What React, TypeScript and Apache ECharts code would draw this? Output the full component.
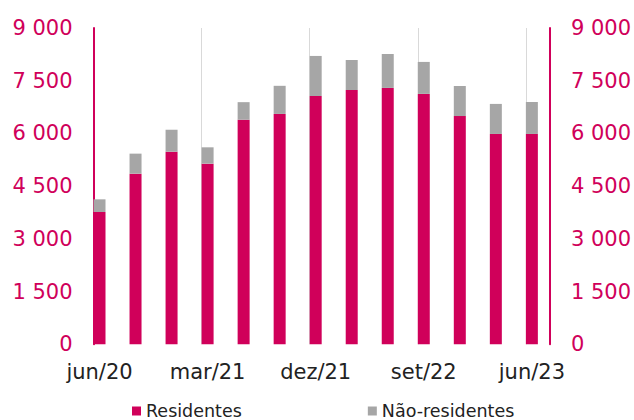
import React, { useEffect, useRef } from "react";
import * as echarts from "echarts";

// Monthly category axis (bars sit on quarter months)
const months: string[] = [
  "jun/20", "jul/20", "ago/20", "set/20", "out/20", "nov/20", "dez/20",
  "jan/21", "fev/21", "mar/21", "abr/21", "mai/21", "jun/21", "jul/21", "ago/21", "set/21", "out/21", "nov/21", "dez/21",
  "jan/22", "fev/22", "mar/22", "abr/22", "mai/22", "jun/22", "jul/22", "ago/22", "set/22", "out/22", "nov/22", "dez/22",
  "jan/23", "fev/23", "mar/23", "abr/23", "mai/23", "jun/23", "jul/23",
];

const quarters: string[] = [
  "jun/20", "set/20", "dez/20", "mar/21", "jun/21", "set/21", "dez/21",
  "mar/22", "jun/22", "set/22", "dez/22", "mar/23", "jun/23",
];

const residentes: number[] = [3765, 4855, 5480, 5140, 6390, 6555, 7065, 7235, 7295, 7125, 6495, 5985, 5985];
const naoResidentes: number[] = [360, 570, 625, 465, 500, 800, 1140, 855, 965, 910, 855, 855, 910];

const yTicks: number[] = [0, 1500, 3000, 4500, 6000, 7500, 9000];

const PINK = "#D0005A";
const GRAY = "#A6A6A6";
const FONT = "DejaVu Sans";

function toMonthly(values: number[]): (number | null)[] {
  const out: (number | null)[] = months.map(() => null);
  quarters.forEach((q, i) => {
    const idx = months.indexOf(q);
    if (idx >= 0) out[idx] = values[i];
  });
  return out;
}

function fmt(v: number): string {
  const s = String(Math.round(v));
  return s.replace(/\B(?=(\d{3})+(?!\d))/g, " ");
}

export default function App() {
  const ref = useRef<HTMLDivElement>(null);
  useEffect(() => {
    if (!ref.current) return;
    const chart = echarts.init(ref.current, null, { renderer: "svg" });
    const yMin = yTicks[0];
    const yMax = yTicks[yTicks.length - 1];
    const yInterval = yTicks[1] - yTicks[0];
    const yAxisCommon = {
      type: "value" as const,
      min: yMin,
      max: yMax,
      interval: yInterval,
      axisLine: { show: true, lineStyle: { color: PINK, width: 2 } },
      axisTick: { show: false },
      splitLine: { show: false },
      axisLabel: {
        color: PINK,
        fontFamily: FONT,
        fontSize: 21,
        margin: 21,
        formatter: (v: number) => fmt(v),
      },
    };
    chart.setOption({
      animation: false,
      grid: { left: 93.5, right: 81, top: 28, bottom: 75.7, containLabel: false },
      legend: {
        data: ["Residentes", "Não-residentes"],
        left: 132,
        top: 402,
        padding: 0,
        itemWidth: 9,
        itemHeight: 9,
        itemGap: 126,
        icon: "rect",
        textStyle: { fontFamily: FONT, fontSize: 17.5, color: "#222", padding: [0, 0, 0, 0] },
      },
      xAxis: {
        type: "category",
        data: months,
        boundaryGap: true,
        axisLine: { show: false },
        axisTick: { show: false, interval: 8 },
        splitLine: { show: true, interval: 8, lineStyle: { color: "#D9D9D9", width: 1 } },
        axisLabel: {
          interval: 8,
          color: "#222",
          fontFamily: FONT,
          fontSize: 21,
          margin: 17,
        },
      },
      yAxis: [
        { ...yAxisCommon, position: "left" },
        { ...yAxisCommon, position: "right" },
      ],
      series: [
        {
          name: "Residentes",
          type: "bar",
          stack: "total",
          barWidth: 12,
          itemStyle: { color: PINK },
          data: toMonthly(residentes),
        },
        {
          name: "Não-residentes",
          type: "bar",
          stack: "total",
          barWidth: 12,
          itemStyle: { color: GRAY },
          data: toMonthly(naoResidentes),
        },
      ],
    });
    return () => chart.dispose();
  }, []);
  return (
    <div
      ref={ref}
      style={{ position: "fixed", left: 0, top: 0, width: 634, height: 420, background: "#fff" }}
    />
  );
}
